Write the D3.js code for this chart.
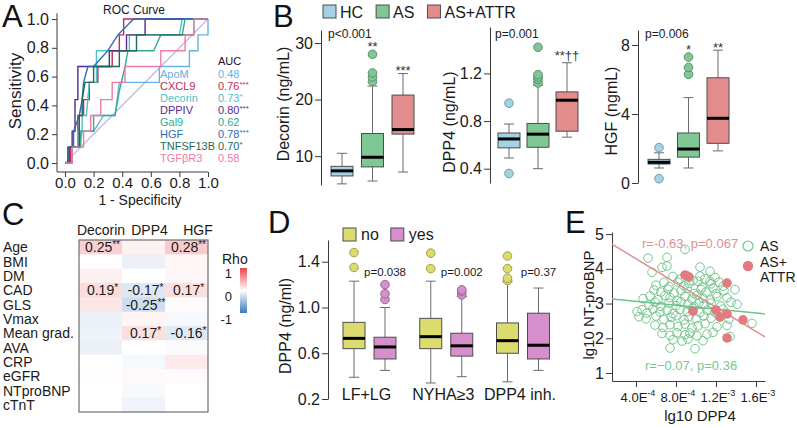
<!DOCTYPE html>
<html>
<head>
<meta charset="utf-8">
<script src="https://cdn.jsdelivr.net/npm/d3@7"></script>
<style>
  body { margin: 0; background: #fff; }
  svg { display: block; }
</style>
</head>
<body>
<div id="fig"></div>
<script>
/* global d3 */
const W = 797, H = 428;
const FONT = '"Liberation Sans", Arial, Helvetica, sans-serif';

// ---------- A: ROC curves (fpr, tpr) ----------
const rocNames = ["ApoM", "CXCL9", "Decorin", "DPPIV", "Gal9", "HGF", "TNFSF13B", "TGFβR3"];
const rocAuc = ["0.48", "0.76", "0.73", "0.80", "0.62", "0.78", "0.70", "0.58"];
const rocStars = ["", "***", "*", "***", "", "***", "*", ""];
const rocTicks = [0, 0.2, 0.4, 0.6, 0.8, 1];
const rocApoM = [[0,0],[0.03,0],[0.03,0.11],[0.1,0.11],[0.12,0.22],[0.2,0.22],[0.27,0.33],[0.35,0.33],[0.38,0.56],[0.66,0.56],[0.66,0.67],[0.87,0.67],[0.87,0.78],[0.93,0.78],[0.93,0.89],[1,0.89],[1,1]];
const rocCXCL9 = [[0,0],[0.04,0],[0.04,0.11],[0.09,0.11],[0.09,0.33],[0.13,0.33],[0.13,0.44],[0.17,0.44],[0.17,0.56],[0.23,0.56],[0.23,0.67],[0.33,0.67],[0.33,0.78],[0.38,0.78],[0.38,0.89],[0.41,0.89],[0.41,1],[1,1]];
const rocDecorin = [[0,0],[0.05,0],[0.05,0.11],[0.09,0.11],[0.09,0.22],[0.12,0.22],[0.12,0.33],[0.15,0.33],[0.17,0.56],[0.22,0.56],[0.22,0.78],[0.45,0.78],[0.45,0.89],[0.8,0.89],[0.82,1],[1,1]];
const rocDPPIV = [[0,0],[0.02,0],[0.02,0.11],[0.05,0.11],[0.05,0.22],[0.07,0.22],[0.07,0.44],[0.09,0.44],[0.09,0.67],[0.31,0.67],[0.31,0.78],[0.43,0.78],[0.43,0.89],[0.56,0.89],[0.56,1],[1,1]];
const rocGal9 = [[0,0],[0.05,0],[0.05,0.11],[0.11,0.11],[0.11,0.22],[0.2,0.22],[0.2,0.33],[0.35,0.33],[0.38,0.5],[0.42,0.67],[0.44,0.78],[0.62,0.78],[0.67,0.89],[0.82,0.89],[0.84,1],[1,1]];
const rocHGF = [[0,0],[0.03,0],[0.03,0.11],[0.06,0.11],[0.06,0.22],[0.1,0.33],[0.12,0.44],[0.13,0.56],[0.16,0.67],[0.2,0.67],[0.3,0.78],[0.37,0.89],[0.48,1],[1,1]];
const rocTNFSF13B = [[0,0],[0.03,0],[0.03,0.11],[0.1,0.11],[0.1,0.33],[0.12,0.33],[0.12,0.44],[0.14,0.56],[0.2,0.56],[0.2,0.67],[0.38,0.67],[0.38,0.78],[0.5,0.78],[0.5,0.89],[0.9,0.89],[0.9,1],[1,1]];
const rocTGFbR3 = [[0,0],[0.05,0],[0.05,0.11],[0.13,0.11],[0.13,0.22],[0.18,0.22],[0.18,0.33],[0.25,0.33],[0.25,0.44],[0.33,0.44],[0.33,0.56],[0.42,0.56],[0.42,0.67],[0.67,0.67],[0.67,0.78],[0.84,0.78],[0.84,0.89],[0.9,0.89],[0.9,1],[1,1]];
const rocCurves = [rocApoM, rocCXCL9, rocDecorin, rocDPPIV, rocGal9, rocHGF, rocTNFSF13B, rocTGFbR3];

// ---------- B: box plots [min, q1, median, q3, max] ----------
const bGroups = ["HC", "AS", "AS+ATTR"];
const decorinBox = [[5.1, 6.5, 7.4, 8.2, 10.5], [5.6, 8.1, 9.8, 14.0, 22.4], [7.2, 13.9, 14.7, 20.8, 24.6]];
const decorinOut = [[], [23.2, 24.0, 24.7, 28.0], []];
const decorinSig = ["", "**", "***"];
const dpp4Box = [[0.49, 0.575, 0.65, 0.70, 0.775], [0.40, 0.58, 0.69, 0.78, 1.10], [0.665, 0.715, 0.975, 1.045, 1.29]];
const dpp4Out = [[0.36, 0.95], [1.12, 1.15, 1.17, 1.19, 1.42], []];
const dpp4Sig = ["", "", "**††"];
const hgfBox = [[0.87, 1.1, 1.2, 1.37, 1.75], [0.87, 1.5, 1.97, 2.9, 4.95], [1.86, 2.3, 3.75, 6.1, 7.7]];
const hgfOut = [[0.25, 2.05], [6.3, 6.7, 7.3], []];
const hgfSig = ["", "*", "**"];

// ---------- C: Spearman rho heatmap ----------
const hmRows = ["Age", "BMI", "DM", "CAD", "GLS", "Vmax", "Mean grad.", "AVA", "CRP", "eGFR", "NTproBNP", "cTnT"];
const hmCols = ["Decorin", "DPP4", "HGF"];
const rhoDecorin = [0.25, 0.0, 0.08, 0.19, 0.14, -0.1, -0.09, -0.1, 0.0, 0.01, 0.0, 0.0];
const rhoDpp4 = [0.07, -0.1, 0.0, -0.17, -0.25, 0.06, 0.17, 0.0, -0.05, 0.04, -0.04, -0.08];
const rhoHgf = [0.28, 0.05, 0.05, 0.17, 0.02, -0.05, -0.16, -0.03, 0.12, 0.03, 0.0, 0.0];
const txtDecorin = ["0.25**", "", "", "0.19*", "", "", "", "", "", "", "", ""];
const txtDpp4 = ["", "", "", "-0.17*", "-0.25**", "", "0.17*", "", "", "", "", ""];
const txtHgf = ["0.28**", "", "", "0.17*", "", "", "-0.16*", "", "", "", "", ""];
const rhoLegend = [1, 0, -1];

// ---------- D: DPP4 by subgroup ----------
const dGroups = ["LF+LG", "NYHA≥3", "DPP4 inh."];
const dLevels = ["no", "yes"];
const dNoBox = [[0.39, 0.64, 0.73, 0.87, 1.23], [0.34, 0.64, 0.745, 0.905, 1.23], [0.35, 0.60, 0.71, 0.865, 1.225]];
const dNoOut = [[1.35, 1.48], [1.34, 1.475], [1.235, 1.255, 1.34, 1.45]];
const dYesBox = [[0.45, 0.55, 0.655, 0.74, 1.0], [0.395, 0.575, 0.665, 0.775, 1.095], [0.45, 0.55, 0.67, 0.95, 1.17]];
const dYesOut = [[1.07, 1.12, 1.2], [1.11, 1.14, 1.155], []];
const dPvals = ["p=0.038", "p=0.002", "p=0.37"];

// ---------- E: scatter, DPP4 in units of 1E-4 ----------
const asDpp4 = [
  8.9,
  5.2, 7.1,
  6.6, 7.1, 10.4,
  5.6, 11.4,
  7.7, 8.4, 9.1, 9.7, 10.4, 10.9, 11.4, 11.9,
  6.0, 6.8, 7.3, 8.2, 8.8, 9.3, 10.2, 10.6, 11.5, 12.3, 12.7,
  5.8, 6.5, 7.2, 7.8, 8.5, 9.1, 9.8, 10.5, 11.0, 11.7, 12.0, 12.8, 13.9,
  4.7, 5.4, 6.2, 6.9, 7.4, 8.1, 8.9, 9.6, 10.1, 10.7, 11.4, 12.1, 13.1,
  5.3, 5.9, 6.5, 7.3, 8.0, 8.5, 9.2, 9.8, 10.3, 10.8, 11.5, 12.5, 13.5, 14.1,
  4.1, 4.6, 5.1, 5.7, 6.4, 7.1, 7.7, 8.4, 9.1, 9.7, 10.4, 11.1, 11.9, 12.7,
  4.3, 5.0, 6.0, 6.8, 7.5, 8.0, 8.8, 9.3, 10.0, 10.8, 11.5, 13.3, 15.6,
  5.9, 6.7, 7.4, 8.2, 8.9, 9.6, 10.2, 10.9, 12.1, 13.1,
  6.6, 7.4, 8.1, 8.9, 9.4, 10.1, 11.1, 11.7, 13.4,
  7.7, 8.6, 9.2, 10.7,
  7.4, 9.9
];
const asBnp = [
  4.56,
  4.31, 4.33,
  4.04, 4.08, 4.05,
  3.90, 3.93,
  3.78, 3.70, 3.80, 3.66, 3.79, 3.71, 3.64, 3.75,
  3.53, 3.61, 3.49, 3.62, 3.51, 3.58, 3.64, 3.47, 3.57, 3.62, 3.50,
  3.39, 3.33, 3.42, 3.30, 3.37, 3.44, 3.29, 3.40, 3.33, 3.45, 3.28, 3.37, 3.40,
  3.14, 3.22, 3.11, 3.23, 3.17, 3.09, 3.21, 3.13, 3.24, 3.15, 3.10, 3.20, 3.17,
  2.96, 3.04, 2.92, 3.01, 2.94, 3.05, 2.98, 2.91, 3.02, 2.96, 3.01, 2.93, 3.04, 2.98,
  2.77, 2.82, 2.73, 2.84, 2.76, 2.81, 2.71, 2.83, 2.77, 2.86, 2.74, 2.81, 2.75, 2.84,
  2.62, 2.56, 2.64, 2.54, 2.60, 2.65, 2.53, 2.62, 2.56, 2.64, 2.58, 2.55, 2.43,
  2.38, 2.31, 2.39, 2.34, 2.41, 2.30, 2.36, 2.42, 2.33, 2.37,
  2.14, 2.08, 2.16, 2.10, 2.15, 2.07, 2.12, 2.17, 2.05,
  1.96, 1.92, 1.98, 1.93,
  1.72, 1.70
];
const attrDpp4 = [8.9, 9.3, 9.7, 13.1, 12.0, 12.4, 13.1, 14.7, 13.1];
const attrBnp = [3.82, 3.76, 2.78, 3.59, 2.81, 2.61, 2.70, 2.53, 2.01];
const asFit = [[1.6, 3.13], [16.9, 2.70]];
const attrFit = [[1.6, 4.71], [16.9, 2.04]];
const eXTicks = [4, 8, 12, 16];
const eXTickBase = ["4.0E", "8.0E", "1.2E", "1.6E"];
const eXTickExp = ["-4", "-4", "-3", "-3"];
const eYTicks = [1, 2, 3, 4, 5];

// ================= drawing =================
const svg = d3.select("#fig").append("svg")
    .attr("width", W)
    .attr("height", H)
    .attr("viewBox", [0, 0, W, H])
    .style("font-family", FONT);

svg.append("rect").attr("width", W).attr("height", H).attr("fill", "#fff");

function styleAxis(g, size) {
    g.attr("font-family", FONT).attr("color", "#3a3a3a");
    g.selectAll(".tick text").attr("font-size", size).attr("fill", "#1a1a1a");
}

function letter(x, y, t) {
    svg.append("text").attr("x", x).attr("y", y)
        .attr("font-size", 31).attr("fill", "#111").text(t);
}

function vLabel(x, y, t, size) {
    svg.append("text")
        .attr("transform", `translate(${x},${y}) rotate(-90)`)
        .attr("text-anchor", "middle")
        .attr("dy", "0.35em")
        .attr("font-size", size)
        .attr("fill", "#1a1a1a")
        .text(t);
}

function drawBoxes(items, y, w) {
    const g = svg.append("g");
    const b = g.selectAll("g").data(items).join("g");
    b.append("line")
        .attr("x1", d => d.cx).attr("x2", d => d.cx)
        .attr("y1", d => y(d.s[0])).attr("y2", d => y(d.s[4]))
        .attr("stroke", "#6b6b6b");
    b.selectAll("line.cap")
        .data(d => [d.s[0], d.s[4]].map(v => ({v, cx: d.cx})))
        .join("line")
        .attr("class", "cap")
        .attr("x1", c => c.cx - 5).attr("x2", c => c.cx + 5)
        .attr("y1", c => y(c.v)).attr("y2", c => y(c.v))
        .attr("stroke", "#6b6b6b");
    b.append("rect")
        .attr("x", d => d.cx - w / 2)
        .attr("y", d => y(d.s[3]))
        .attr("width", w)
        .attr("height", d => y(d.s[1]) - y(d.s[3]))
        .attr("fill", d => d.fill)
        .attr("stroke", "#4d4d4d");
    b.append("line")
        .attr("x1", d => d.cx - w / 2).attr("x2", d => d.cx + w / 2)
        .attr("y1", d => y(d.s[2])).attr("y2", d => y(d.s[2]))
        .attr("stroke", "#000").attr("stroke-width", 3);
    b.selectAll("circle")
        .data(d => d.out.map(v => ({v, d})))
        .join("circle")
        .attr("cx", o => o.d.cx)
        .attr("cy", o => y(o.v))
        .attr("r", 4.3)
        .attr("fill", o => o.d.fill)
        .attr("stroke", o => d3.color(o.d.fill).darker(0.9));
    return b;
}

// ---------- A ----------
letter(2, 27, "A");
const xA = d3.scaleLinear().domain([0, 1]).range([65, 208]);
const yA = d3.scaleLinear().domain([0, 1]).range([163, 19]);
const rocColor = d3.scaleOrdinal().domain(rocNames)
    .range(["#67b2e0", "#c1295a", "#4cc3c9", "#522b8c", "#2fae90", "#2d6db6", "#1c6a5c", "#f07aa8"]);

svg.append("g")
    .attr("transform", "translate(57,0)")
    .call(d3.axisLeft(yA).tickValues(rocTicks).tickFormat(d3.format(".1f")).tickSize(5).tickPadding(3))
    .call(g => g.select(".domain").remove())
    .call(styleAxis, 16);
svg.append("g")
    .attr("transform", "translate(0,172)")
    .call(d3.axisBottom(xA).tickValues(rocTicks).tickFormat(d3.format(".1f")).tickSize(5).tickPadding(0))
    .call(g => g.select(".domain").remove())
    .call(styleAxis, 15);
svg.append("path")
    .attr("d", `M57,${yA(1.04)}V172H${xA(1)}`)
    .attr("fill", "none").attr("stroke", "#3a3a3a");

svg.append("line")
    .attr("x1", xA(0)).attr("y1", yA(0))
    .attr("x2", xA(1)).attr("y2", yA(1))
    .attr("stroke", "#c9b9e3").attr("stroke-width", 1.4);

const rocLine = d3.line().x(d => xA(d[0])).y(d => yA(d[1]));
svg.append("g")
    .attr("fill", "none")
    .attr("stroke-width", 1.4)
    .selectAll("path")
    .data(rocCurves)
    .join("path")
    .attr("stroke", (d, i) => rocColor(rocNames[i]))
    .attr("d", rocLine);

svg.append("text").attr("x", 134).attr("y", 14).attr("text-anchor", "middle")
    .attr("font-size", 12).attr("fill", "#1a1a1a").text("ROC Curve");
svg.append("text").attr("x", 140).attr("y", 205).attr("text-anchor", "middle")
    .attr("font-size", 14).attr("fill", "#1a1a1a").text("1 - Specificity");
vLabel(15, 91, "Sensitivity", 17);

const legA = svg.append("g").attr("font-size", 11);
legA.append("text").attr("x", 218).attr("y", 65).attr("fill", "#111").text("AUC");
legA.selectAll("text.name")
    .data(rocNames)
    .join("text")
    .attr("class", "name")
    .attr("x", 160)
    .attr("y", (d, i) => 78 + i * 12)
    .attr("fill", d => rocColor(d))
    .text(d => d);
legA.selectAll("text.auc")
    .data(rocNames)
    .join("text")
    .attr("class", "auc")
    .attr("x", 218)
    .attr("y", (d, i) => 78 + i * 12)
    .attr("fill", d => rocColor(d))
    .text((d, i) => rocAuc[i])
    .append("tspan")
    .attr("font-size", 8)
    .attr("dy", -3)
    .text((d, i) => rocStars[i]);

// ---------- B ----------
letter(273, 27, "B");
const bColor = d3.scaleOrdinal().domain(bGroups).range(["#a4d2e4", "#80c796", "#e28c8c"]);

let lx = 323;
bGroups.forEach(k => {
    svg.append("rect").attr("x", lx).attr("y", 5).attr("width", 13).attr("height", 13)
        .attr("fill", bColor(k)).attr("stroke", "#4d4d4d");
    const t = svg.append("text").attr("x", lx + 17).attr("y", 18)
        .attr("font-size", 16).attr("fill", "#1a1a1a").text(k);
    lx += 17 + t.node().getComputedTextLength() + 13;
});

const bPanels = [
    {axisX: 321, domain: [4.9, 32.3], range: [185, 30], ticks: [10, 20, 30], fmt: d3.format("d"),
        span: [342, 403], label: "Decorin (ng/mL)", labelX: 283, labelY: 104,
        box: decorinBox, out: decorinOut, sig: decorinSig, p: "p<0.001", pX: 328},
    {axisX: 490, domain: [0.28, 1.59], range: [183, 27], ticks: [0.4, 0.8, 1.2], fmt: d3.format(".1f"),
        span: [509, 567], label: "DPP4 (ng/mL)", labelX: 449, labelY: 122,
        box: dpp4Box, out: dpp4Out, sig: dpp4Sig, p: "p=0.001", pX: 495},
    {axisX: 638, domain: [0, 8.87], range: [183, 30], ticks: [0, 4, 8], fmt: d3.format("d"),
        span: [659, 718], label: "HGF (ngmL)", labelX: 611, labelY: 111,
        box: hgfBox, out: hgfOut, sig: hgfSig, p: "p=0.006", pX: 645}
];

bPanels.forEach(p => {
    const y = d3.scaleLinear().domain(p.domain).range(p.range);
    const x = d3.scalePoint().domain(bGroups).range(p.span);
    svg.append("g")
        .attr("transform", `translate(${p.axisX},0)`)
        .call(d3.axisLeft(y).tickValues(p.ticks).tickFormat(p.fmt).tickSize(6).tickSizeOuter(0).tickPadding(2))
        .call(styleAxis, 16);
    vLabel(p.labelX, p.labelY, p.label, 16);
    svg.append("text").attr("x", p.pX).attr("y", 38)
        .attr("font-size", 12).attr("fill", "#1a1a1a").text(p.p);

    const items = bGroups.map((k, i) => ({cx: x(k), s: p.box[i], out: p.out[i], fill: bColor(k), sig: p.sig[i]}));
    drawBoxes(items, y, 22);

    svg.append("g")
        .selectAll("text")
        .data(items.filter(d => d.sig))
        .join("text")
        .attr("x", d => d.cx)
        .attr("y", d => {
            const mo = d3.max(d.out);
            const top = mo !== undefined && mo > d.s[4] ? y(mo) - 4.5 : y(d.s[4]);
            return d.sig.includes("†") ? top - 3 : top + 1.5;
        })
        .attr("text-anchor", "middle")
        .attr("font-size", 13)
        .attr("fill", "#333")
        .text(d => d.sig);
});

// ---------- C ----------
letter(2, 225, "C");
const xC = d3.scaleBand().domain(hmCols).range([79, 208]);
const yC = d3.scaleBand().domain(hmRows).range([240, 412]);
const hmHeadX = d3.scalePoint().domain(hmCols).range([101, 198]);
const rhoColor = d3.scaleLinear().domain([-1, 0, 1]).range(["#3d77bd", "#ffffff", "#e9464b"]);
const hmRho = [rhoDecorin, rhoDpp4, rhoHgf];
const hmText = [txtDecorin, txtDpp4, txtHgf];
const hmCells = hmCols.flatMap((c, j) => hmRows.map((r, i) => ({c, r, v: hmRho[j][i], t: hmText[j][i]})));

svg.append("g")
    .selectAll("rect")
    .data(hmCells)
    .join("rect")
    .attr("x", d => xC(d.c))
    .attr("y", d => yC(d.r))
    .attr("width", xC.bandwidth())
    .attr("height", yC.bandwidth() + 0.5)
    .attr("fill", d => rhoColor(d.v));

svg.append("rect")
    .attr("x", xC.range()[0]).attr("y", yC.range()[0])
    .attr("width", xC.range()[1] - xC.range()[0])
    .attr("height", yC.range()[1] - yC.range()[0])
    .attr("fill", "none").attr("stroke", "#6e6e6e").attr("stroke-width", 1.2);

const cellText = svg.append("g")
    .attr("font-size", 14)
    .attr("text-anchor", "middle")
    .attr("fill", "#1a1a1a")
    .selectAll("text")
    .data(hmCells.filter(d => d.t))
    .join("text")
    .attr("x", d => xC(d.c) + xC.bandwidth() / 2 + 2)
    .attr("y", d => yC(d.r) + yC.bandwidth() / 2 + 5)
    .text(d => d.t.replace(/\*+$/, ""));
cellText.append("tspan")
    .attr("font-size", 10)
    .attr("dy", -4)
    .text(d => (d.t.match(/\*+$/) || [""])[0]);

svg.append("g")
    .attr("font-size", 14)
    .attr("text-anchor", "middle")
    .attr("fill", "#1a1a1a")
    .selectAll("text")
    .data(hmCols)
    .join("text")
    .attr("x", d => hmHeadX(d))
    .attr("y", 235)
    .text(d => d);

svg.append("g")
    .attr("font-size", 14)
    .attr("fill", "#1a1a1a")
    .selectAll("text")
    .data(hmRows)
    .join("text")
    .attr("x", 3)
    .attr("y", d => yC(d) + yC.bandwidth() / 2 + 5)
    .text(d => d);

const yLeg = d3.scaleLinear().domain([1, -1]).range([273, 319]);
const grad = svg.append("defs").append("linearGradient")
    .attr("id", "rhoGrad").attr("x1", 0).attr("y1", 0).attr("x2", 0).attr("y2", 1);
grad.selectAll("stop")
    .data(rhoLegend)
    .join("stop")
    .attr("offset", (d, i) => i / (rhoLegend.length - 1))
    .attr("stop-color", d => rhoColor(d));
svg.append("rect")
    .attr("x", 240).attr("y", yLeg(1) - 5)
    .attr("width", 7).attr("height", yLeg(-1) - yLeg(1) - 1)
    .attr("fill", "url(#rhoGrad)");
svg.append("text").attr("x", 222).attr("y", 264).attr("font-size", 14)
    .attr("fill", "#1a1a1a").text("Rho");
svg.append("g")
    .attr("font-size", 13)
    .attr("text-anchor", "end")
    .attr("fill", "#1a1a1a")
    .selectAll("text")
    .data(rhoLegend)
    .join("text")
    .attr("x", 232)
    .attr("y", d => yLeg(d) + 5)
    .text(d => d);

// ---------- D ----------
letter(268, 233, "D");
const yD = d3.scaleLinear().domain([0.2, 1.59]).range([399, 240]);
const xD = d3.scalePoint().domain(dGroups).range([369.5, 523]);
const dColor = d3.scaleOrdinal().domain(dLevels).range(["#dcdc6e", "#d48fcc"]);
const dOff = d3.scalePoint().domain(dLevels).range([-15.5, 15.5]);

svg.append("g")
    .attr("transform", "translate(328,0)")
    .call(d3.axisLeft(yD).tickValues([0.2, 0.6, 1.0, 1.4]).tickFormat(d3.format(".1f")).tickSize(6).tickSizeOuter(0).tickPadding(2))
    .call(styleAxis, 16);
vLabel(285, 326, "DPP4 (ng/ml)", 16);

const dItems = dGroups.flatMap((k, i) => [
    {cx: xD(k) + dOff("no"), s: dNoBox[i], out: dNoOut[i], fill: dColor("no")},
    {cx: xD(k) + dOff("yes"), s: dYesBox[i], out: dYesOut[i], fill: dColor("yes")}
]);
drawBoxes(dItems, yD, 22);

svg.append("g")
    .attr("font-size", 16)
    .attr("text-anchor", "middle")
    .attr("fill", "#1a1a1a")
    .selectAll("text")
    .data(dGroups)
    .join("text")
    .attr("x", d => xD(d) - 3)
    .attr("y", 400)
    .text(d => d);

svg.append("g")
    .attr("font-size", 11.5)
    .attr("text-anchor", "middle")
    .attr("fill", "#1a1a1a")
    .selectAll("text")
    .data(dGroups)
    .join("text")
    .attr("x", d => xD(d) + dOff("yes"))
    .attr("y", 276)
    .text((d, i) => dPvals[i]);

let dx = 343;
dLevels.forEach(k => {
    svg.append("rect").attr("x", dx).attr("y", 228).attr("width", 13).attr("height", 13)
        .attr("fill", dColor(k)).attr("stroke", "#4d4d4d");
    const t = svg.append("text").attr("x", dx + 18).attr("y", 240)
        .attr("font-size", 16).attr("fill", "#1a1a1a").text(k);
    dx += 18 + t.node().getComputedTextLength() + 12;
});

// ---------- E ----------
letter(565, 233, "E");
const xE = d3.scaleLinear().domain([1.6, 16.9]).range([612, 765]);
const yE = d3.scaleLinear().domain([0.77, 5.06]).range([381, 232]);

svg.append("g")
    .attr("transform", "translate(612,0)")
    .call(d3.axisLeft(yE).tickValues(eYTicks).tickFormat(d3.format("d")).tickSize(6).tickSizeOuter(0).tickPadding(2))
    .call(styleAxis, 16);
svg.append("g")
    .attr("transform", "translate(0,381)")
    .call(d3.axisBottom(xE).tickValues(eXTicks).tickFormat("").tickSize(6).tickSizeOuter(0))
    .call(styleAxis, 13);

const eLab = svg.append("g")
    .attr("font-size", 13)
    .attr("text-anchor", "middle")
    .attr("fill", "#1a1a1a")
    .selectAll("text")
    .data(eXTicks)
    .join("text")
    .attr("x", d => xE(d) + 2)
    .attr("y", 402)
    .text((d, i) => eXTickBase[i]);
eLab.append("tspan")
    .attr("font-size", 9)
    .attr("dy", -6)
    .text((d, i) => eXTickExp[i]);

vLabel(589, 305, "lg10 NT-proBNP", 15);
svg.append("text").attr("x", 700).attr("y", 421).attr("text-anchor", "middle")
    .attr("font-size", 15).attr("fill", "#1a1a1a").text("lg10 DPP4");

const asPts = asDpp4.map((v, i) => [v, asBnp[i]]);
const attrPts = attrDpp4.map((v, i) => [v, attrBnp[i]]);

svg.append("g")
    .attr("fill", "none")
    .attr("stroke", "#72c68f")
    .selectAll("circle")
    .data(asPts)
    .join("circle")
    .attr("cx", d => xE(d[0]))
    .attr("cy", d => yE(d[1]))
    .attr("r", 4.3);

const fitLine = d3.line().x(d => xE(d[0])).y(d => yE(d[1]));
svg.append("path").attr("d", fitLine(asFit)).attr("fill", "none")
    .attr("stroke", "#6cc48a").attr("stroke-width", 1.5);
svg.append("path").attr("d", fitLine(attrFit)).attr("fill", "none")
    .attr("stroke", "#e0908f").attr("stroke-width", 1.5);

svg.append("g")
    .attr("fill", "#e07b80")
    .selectAll("circle")
    .data(attrPts)
    .join("circle")
    .attr("cx", d => xE(d[0]))
    .attr("cy", d => yE(d[1]))
    .attr("r", 4.8);

svg.append("text").attr("x", 642).attr("y", 248).attr("font-size", 13)
    .attr("fill", "#e08f92").text("r=-0.63, p=0.067");
svg.append("text").attr("x", 645).attr("y", 370).attr("font-size", 13)
    .attr("fill", "#74c890").text("r=\u22120.07, p=0.36");

svg.append("circle").attr("cx", 748).attr("cy", 246).attr("r", 5)
    .attr("fill", "none").attr("stroke", "#72c68f").attr("stroke-width", 1.2);
svg.append("circle").attr("cx", 748).attr("cy", 266).attr("r", 5.2).attr("fill", "#e07b80");
const legE = svg.append("g").attr("font-size", 14).attr("fill", "#1a1a1a");
legE.append("text").attr("x", 760).attr("y", 251).text("AS");
legE.append("text").attr("x", 760).attr("y", 267).text("AS+");
legE.append("text").attr("x", 760).attr("y", 282).text("ATTR");
</script>
</body>
</html>
